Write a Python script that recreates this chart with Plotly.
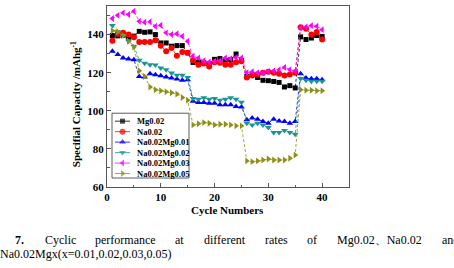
import plotly.graph_objects as go

cycles = list(range(1, 41))
names = ["Mg0.02", "Na0.02", "Na0.02Mg0.01", "Na0.02Mg0.02", "Na0.02Mg0.03", "Na0.02Mg0.05"]

mg002 = [139.5, 139.3, 139.6, 138.6, 139.2, 141.7, 141.2, 141.4, 140.0, 135.6,
         135.6, 133.9, 134.2, 134.2, 130.4, 125.4, 125.6, 125.2, 124.8, 127.0,
         127.4, 126.5, 126.8, 129.8, 126.5, 118.0, 119.0, 117.5, 116.0, 115.8,
         115.4, 114.9, 112.5, 113.2, 112.0, 138.8, 137.4, 138.2, 139.5, 139.0]
na002 = [136.8, 140.4, 140.9, 140.0, 138.6, 136.1, 136.1, 136.1, 137.0, 134.2,
         131.2, 133.0, 128.9, 130.9, 130.4, 126.5, 124.2, 124.8, 123.3, 125.5,
         125.2, 124.2, 124.2, 125.5, 126.0, 117.5, 118.5, 119.0, 120.0, 120.5,
         120.0, 119.5, 118.5, 119.0, 120.0, 143.8, 143.0, 140.0, 141.4, 137.4]
na_mg001 = [131.2, 129.5, 127.7, 127.2, 126.8, 118.0, 117.7, 119.5, 118.9, 118.4,
            117.7, 117.2, 116.7, 116.0, 116.3, 105.0, 104.4, 104.4, 104.0, 104.0,
            103.2, 103.2, 103.2, 102.3, 102.0, 95.3, 96.2, 95.5, 94.4, 93.5,
            95.6, 94.7, 94.4, 93.5, 94.4, 119.5, 117.2, 116.8, 116.8, 116.3]
na_mg002 = [144.7, 141.5, 139.5, 136.5, 133.9, 126.5, 125.0, 124.2, 124.0, 122.5,
            121.6, 119.8, 118.6, 118.6, 117.5, 106.5, 106.0, 106.8, 106.0, 106.5,
            105.5, 106.0, 106.8, 106.0, 104.5, 93.5, 92.6, 93.5, 92.6, 91.2,
            88.6, 88.6, 89.6, 88.6, 87.7, 117.0, 116.0, 115.5, 115.5, 115.5]
na_mg003 = [148.4, 150.1, 151.4, 150.5, 152.2, 147.0, 146.5, 146.7, 144.4, 144.9,
            140.9, 140.0, 140.4, 139.1, 136.5, 128.6, 127.7, 126.3, 125.6, 126.0,
            126.3, 127.7, 127.4, 128.0, 127.7, 120.0, 120.5, 120.0, 119.8, 120.7,
            121.0, 121.5, 122.8, 121.6, 121.0, 143.5, 144.0, 144.7, 144.4, 142.6]
na_mg005 = [142.0, 141.5, 139.5, 136.5, 133.5, 121.0, 118.0, 112.5, 111.0, 110.5,
            110.0, 109.5, 108.8, 107.0, 105.5, 92.6, 93.2, 93.8, 93.5, 92.6,
            92.9, 92.9, 92.6, 92.1, 92.1, 73.7, 73.3, 73.7, 74.2, 74.7,
            74.2, 74.2, 74.2, 75.1, 76.8, 111.0, 110.8, 110.8, 110.5, 110.5]

series = [mg002, na002, na_mg001, na_mg002, na_mg003, na_mg005]
colors = ["#000000", "#FF0000", "#0000FF", "#1A9494", "#FF00FF", "#8F8F14"]
symbols = ["square", "circle", "triangle-up", "triangle-down", "triangle-left", "triangle-right"]
sizes = [5, 6, 6, 6, 6, 6]

x_ticks = [0, 10, 20, 30, 40]
y_ticks = [60, 80, 100, 120, 140]

W, H = 454, 268
L, R, T, B = 107, 349, 5.5, 187
SERIF = "Liberation Serif, Times New Roman, serif"


def px(x):
    return (x - L) / (R - L)


def py(y):
    return (B - y) / (B - T)


fig = go.Figure()
for name, vals, c, s, sz in zip(names, series, colors, symbols, sizes):
    fig.add_trace(go.Scatter(
        x=cycles, y=vals, mode="lines+markers", name=name,
        line=dict(color=c, width=0.8, dash="3px,2px"),
        marker=dict(symbol=s, size=sz, color=c, line=dict(width=0)),
        showlegend=False, cliponaxis=False))

# manual compact legend
leg_top, leg_step = 121, 10.5
for i, (name, c, s, sz) in enumerate(zip(names, colors, symbols, sizes)):
    yy = py(leg_top + i * leg_step)
    fig.add_trace(go.Scatter(
        x=[px(115), px(122.5), px(130)], y=[yy, yy, yy], mode="lines+markers",
        xaxis="x2", yaxis="y2", showlegend=False, hoverinfo="skip",
        line=dict(color=c, width=0.8),
        marker=dict(symbol=s, size=[0, sz, 0], color=c, line=dict(width=0))))
    fig.add_annotation(x=px(135), y=yy, xref="paper", yref="paper", text=name,
                       showarrow=False, xanchor="left", yanchor="middle",
                       font=dict(family=SERIF, size=8.5, color="black", weight="bold"))
fig.add_shape(type="rect", xref="paper", yref="paper",
              x0=px(112), x1=px(189), y0=py(113), y1=py(178),
              line=dict(color="#333", width=0.8), fillcolor="rgba(0,0,0,0)")

axis_common = dict(showgrid=False, zeroline=False, showline=True, linecolor="#555",
                   linewidth=1, mirror=True, ticks="inside", tickcolor="#555",
                   ticklen=4, tickwidth=1,
                   tickfont=dict(family=SERIF, size=11, color="black", weight="bold"))

fig.update_layout(
    width=W, height=H, margin=dict(l=L, r=W - R, t=T, b=H - B),
    paper_bgcolor="white", plot_bgcolor="white",
    xaxis=dict(range=[0, 45], tickvals=x_ticks,
               minor=dict(dtick=5, ticks="inside", ticklen=2.5, tickcolor="#555"),
               **axis_common),
    yaxis=dict(range=[60, 155], tickvals=y_ticks,
               minor=dict(dtick=10, ticks="inside", ticklen=2.5, tickcolor="#555"),
               **axis_common),
    xaxis2=dict(range=[0, 1], overlaying="x", visible=False, anchor="y2"),
    yaxis2=dict(range=[0, 1], overlaying="y", visible=False, anchor="x2"),
)

fig.add_annotation(x=px(227.7), y=py(210), xref="paper", yref="paper",
                   text="Cycle Numbers", showarrow=False,
                   xanchor="center", yanchor="middle",
                   font=dict(family=SERIF, size=11, color="black", weight="bold"))
fig.add_annotation(x=px(76), y=py(104), xref="paper", yref="paper",
                   text="Specifial Capacity /mAhg<sup>-1</sup>", showarrow=False,
                   textangle=-90, xanchor="center", yanchor="middle",
                   font=dict(family=SERIF, size=11, color="black", weight="bold"))

# caption
cap_words = [("<b>7.</b>", 13), ("Cyclic", 43), ("performance", 93), ("at", 173),
             ("different", 202), ("rates", 263), ("of", 305),
             ("Mg0.02、Na0.02", 335), ("and", 440)]
for w, xl in cap_words:
    fig.add_annotation(x=px(xl), y=py(240), xref="paper", yref="paper", text=w,
                       showarrow=False, xanchor="left", yanchor="middle",
                       font=dict(family=SERIF, size=12, color="black"))
fig.add_annotation(x=px(-2), y=py(254), xref="paper", yref="paper",
                   text="Na0.02Mgx(x=0.01,0.02,0.03,0.05)",
                   showarrow=False, xanchor="left", yanchor="middle",
                   font=dict(family=SERIF, size=12, color="black"))

fig.write_html("out.html")
